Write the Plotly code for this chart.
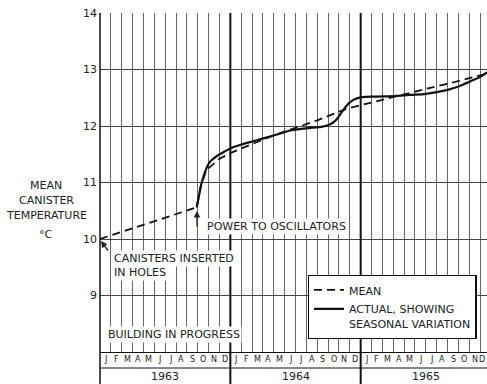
import plotly.graph_objects as go

# ---- data (months since 1 Jan 1963, temperature in deg C) ----
mean_month = [0, 8.9, 9.3, 9.8, 11.0, 12.1, 14.0, 16.2, 17.6, 20.0, 22.6, 24.0, 26.0, 28.2, 30.5, 32.5, 35.63]
mean_temp = [10.0, 10.56, 10.95, 11.22, 11.42, 11.53, 11.68, 11.85, 11.94, 12.1, 12.3, 12.37, 12.46, 12.57, 12.68, 12.77, 12.93]

actual_month = [8.9, 9.1, 9.3, 9.55, 9.8, 10.1, 10.7, 11.4, 12.1, 13.0, 14.1, 15.2, 16.3, 17.5, 18.5, 19.5,
                20.5, 21.2, 21.7, 22.1, 22.5, 22.9, 23.4, 24.1, 25.5, 27.0, 28.5, 30.0, 31.0, 32.0, 33.0,
                34.1, 35.0, 35.63]
actual_temp = [10.56, 10.75, 10.95, 11.12, 11.25, 11.36, 11.46, 11.54, 11.61, 11.67, 11.73, 11.79, 11.85, 11.92,
               11.95, 11.97, 11.99, 12.03, 12.1, 12.2, 12.31, 12.4, 12.47, 12.51, 12.52, 12.53, 12.55, 12.57,
               12.6, 12.64, 12.7, 12.79, 12.87, 12.95]

month_letters = ["J", "F", "M", "A", "M", "J", "J", "A", "S", "O", "N", "D"]
years = ["1963", "1964", "1965"]
y_ticks = [9, 10, 11, 12, 13, 14]

FONT = "DejaVu Sans"
INK = "#222"
X_MAX = 35.63
PW, PH = 387, 339  # plot area size in px


def px_x(px):
    return (px - 100) / PW


def px_y(py):
    return (352 - py) / PH


def m_of(px):
    return (px - 100) / PW * X_MAX


def v_of(py):
    return 8 + (352 - py) / PH * 6


fig = go.Figure()
fig.add_trace(go.Scatter(x=mean_month, y=mean_temp, mode="lines", name="MEAN",
                         line=dict(color="#111", width=1.8, dash="8px,5px"), line_shape="linear"))
fig.add_trace(go.Scatter(x=actual_month, y=actual_temp, mode="lines",
                         name="ACTUAL, SHOWING<br>SEASONAL VARIATION",
                         line=dict(color="#111", width=2.2), line_shape="spline"))

annotations = []
# y-axis title lines
for txt, py in [("MEAN", 185), ("CANISTER", 200), ("TEMPERATURE", 215), ("°C", 234)]:
    annotations.append(dict(x=px_x(46), y=px_y(py), xref="paper", yref="paper", text=txt, showarrow=False,
                            font=dict(family=FONT, size=11, color=INK), xanchor="center", yanchor="middle"))
# month letters and years
for yi, yr in enumerate(years):
    for mi, ml in enumerate(month_letters):
        pos = (yi * 12 + mi + 0.5) / X_MAX
        anchor = "center"
        if pos > 0.99:
            pos, anchor = 0.999, "right"
        annotations.append(dict(x=pos, y=px_y(360), xref="paper", yref="paper",
                                text=ml, showarrow=False, font=dict(family=FONT, size=8, color=INK),
                                xanchor=anchor, yanchor="middle"))
    annotations.append(dict(x=(yi * 12 + 6) / X_MAX, y=px_y(376), xref="paper", yref="paper", text=yr,
                            showarrow=False, font=dict(family=FONT, size=11, color=INK),
                            xanchor="center", yanchor="middle"))
# text notes
for txt, px, py in [("CANISTERS INSERTED", 112, 258), ("IN HOLES", 112, 272),
                    ("BUILDING IN PROGRESS", 106, 334), ("POWER TO OSCILLATORS", 205, 226)]:
    annotations.append(dict(x=px_x(px), y=px_y(py), xref="paper", yref="paper", text=txt, showarrow=False,
                            font=dict(family=FONT, size=11, color=INK), xanchor="left", yanchor="middle",
                            bgcolor="white", borderpad=1))
# arrows
annotations.append(dict(x=m_of(197), y=v_of(211), xref="x", yref="y", text="", showarrow=True,
                        ax=0, ay=17, arrowhead=2, arrowsize=1, arrowwidth=1.3, arrowcolor=INK))
annotations.append(dict(x=m_of(101), y=v_of(241), xref="x", yref="y", text="", showarrow=True,
                        ax=8, ay=11, arrowhead=2, arrowsize=1, arrowwidth=1.3, arrowcolor=INK))

bottom_paper = -32 / PH
shapes = [
    dict(type="line", xref="paper", yref="paper", x0=0, x1=0, y0=bottom_paper, y1=1,
         line=dict(color="#111", width=1.5)),
    dict(type="line", xref="paper", yref="paper", x0=0, x1=1, y0=-16 / PH, y1=-16 / PH,
         line=dict(color="#111", width=1)),
]
for yb in (12, 24):
    shapes.append(dict(type="line", xref="x", yref="paper", x0=yb, x1=yb, y0=bottom_paper, y1=1,
                       line=dict(color="#111", width=2)))

fig.update_layout(
    width=487, height=384,
    margin=dict(l=100, r=0, t=13, b=32),
    paper_bgcolor="white", plot_bgcolor="white",
    font=dict(family=FONT, size=11, color=INK),
    showlegend=True,
    legend=dict(x=px_x(307.7), y=px_y(275), xanchor="left", yanchor="top",
                bgcolor="white", bordercolor="#111", borderwidth=1.3, itemwidth=30,
                font=dict(family=FONT, size=11, color=INK), valign="top", tracegroupgap=2),
    annotations=annotations,
    shapes=shapes,
    xaxis=dict(range=[0, X_MAX], tickvals=list(range(0, 36)), showticklabels=False, ticks="",
               showgrid=True, gridcolor="#666", gridwidth=1, zeroline=False,
               showline=True, linecolor="#111", linewidth=1),
    yaxis=dict(range=[8, 14], tickvals=y_ticks, ticktext=[str(v) for v in y_ticks], ticks="",
               showgrid=True, gridcolor="#444", gridwidth=1, zeroline=False, showline=False,
               tickfont=dict(family=FONT, size=11, color=INK), ticklabelstandoff=2),
)

fig.write_html("out.html", config={"displayModeBar": False},
               post_script="document.body.style.margin='0px';document.body.style.overflow='hidden';")
